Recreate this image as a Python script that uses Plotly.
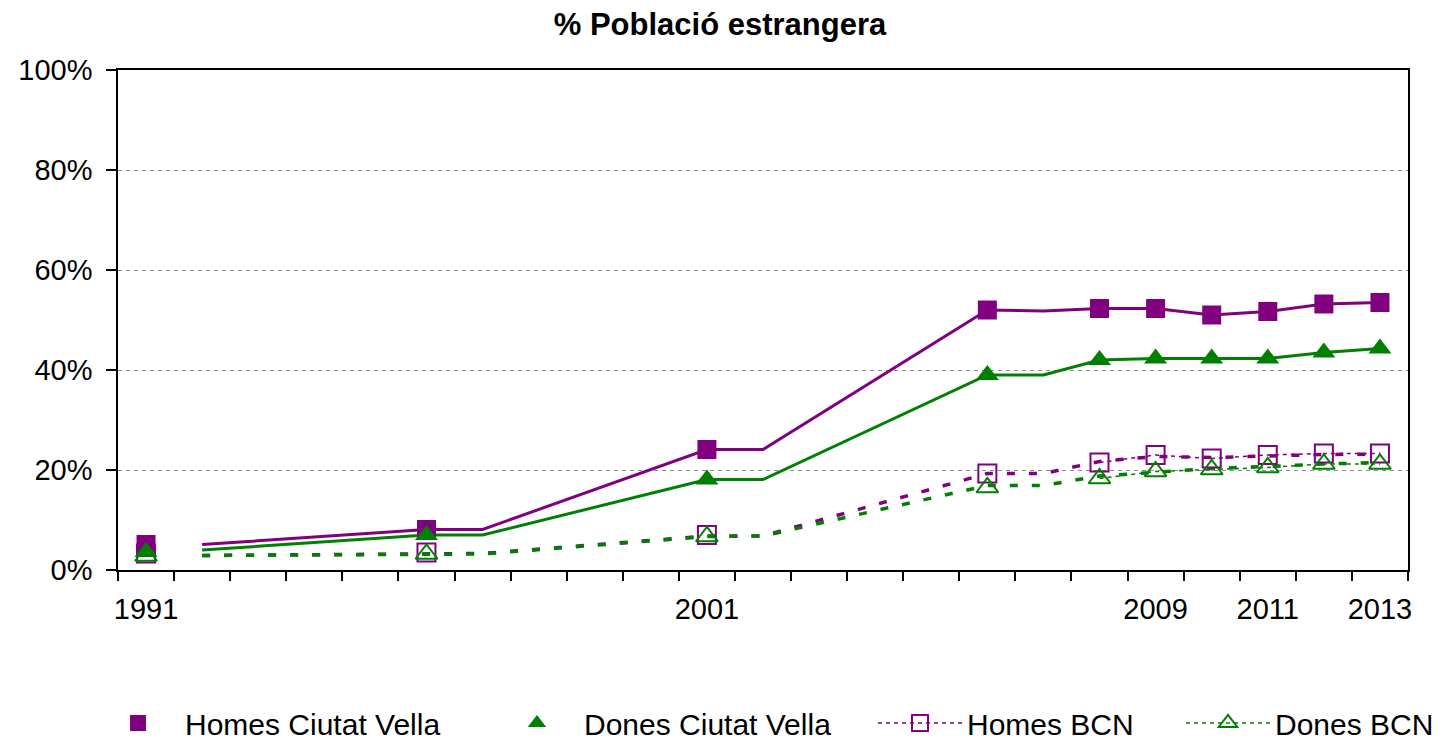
import plotly.graph_objects as go

# ---- data ----
line_years = [1992, 1996, 1997, 2001, 2002, 2006, 2007, 2008, 2009, 2010, 2011, 2012, 2013]
marker_years = [1991, 1996, 2001, 2006, 2008, 2009, 2010, 2011, 2012, 2013]

homes_cv_line = [5.1, 8.1, 8.1, 24.1, 24.1, 52.0, 51.8, 52.3, 52.3, 51.0, 51.7, 53.2, 53.5]
dones_cv_line = [4.0, 7.0, 7.0, 18.1, 18.1, 39.0, 39.0, 42.0, 42.3, 42.3, 42.3, 43.5, 44.3]
homes_bcn_line = [2.9, 3.3, 3.3, 6.8, 6.8, 19.3, 19.3, 21.7, 22.7, 22.5, 22.8, 23.1, 23.2]
dones_bcn_line = [2.9, 3.2, 3.2, 6.7, 6.8, 16.9, 16.9, 18.8, 19.5, 20.3, 20.7, 21.2, 21.5]

homes_cv = [5.1, 8.1, 24.1, 52.0, 52.3, 52.3, 51.0, 51.7, 53.2, 53.5]
dones_cv = [3.6, 7.0, 18.1, 39.0, 42.0, 42.3, 42.3, 42.3, 43.5, 44.3]
homes_bcn = [3.3, 3.5, 7.0, 19.3, 21.5, 23.0, 22.3, 23.0, 23.3, 23.3]
dones_bcn = [2.8, 3.2, 6.7, 16.5, 18.3, 19.7, 20.1, 20.5, 21.2, 21.2]

x_labels = [1991, 2001, 2009, 2011, 2013]
y_ticks = [0, 20, 40, 60, 80, 100]
y_tick_labels = ["0%", "20%", "40%", "60%", "80%", "100%"]

title = "% Població estrangera"
names = ["Homes Ciutat Vella", "Dones Ciutat Vella", "Homes BCN", "Dones BCN"]

PURPLE = "#800080"
GREEN = "#008000"
FONT = "Liberation Sans, Arial, sans-serif"

fig = go.Figure()

# thick lines (no legend)
fig.add_trace(go.Scatter(x=line_years, y=homes_bcn_line, mode="lines", showlegend=False,
                         line=dict(color=PURPLE, width=3.5, dash="8px,14px")))
fig.add_trace(go.Scatter(x=line_years, y=dones_bcn_line, mode="lines", showlegend=False,
                         line=dict(color=GREEN, width=3.5, dash="8px,14px")))
fig.add_trace(go.Scatter(x=line_years, y=dones_cv_line, mode="lines", showlegend=False,
                         line=dict(color=GREEN, width=3)))
fig.add_trace(go.Scatter(x=line_years, y=homes_cv_line, mode="lines", showlegend=False,
                         line=dict(color=PURPLE, width=3)))

# BCN marker series: early points as markers only, later points joined by a thin dotted line
SPLIT = 4
fig.add_trace(go.Scatter(x=marker_years[:SPLIT], y=homes_bcn[:SPLIT], mode="markers", showlegend=False,
                         marker=dict(symbol="square-open", size=18, color=PURPLE, line=dict(width=2, color=PURPLE))))
fig.add_trace(go.Scatter(x=marker_years[SPLIT:], y=homes_bcn[SPLIT:], mode="lines+markers", name=names[2],
                         legend="legend3",
                         line=dict(color=PURPLE, width=1.5, dash="4px,4px"),
                         marker=dict(symbol="square-open", size=18, color=PURPLE, line=dict(width=2, color=PURPLE))))
fig.add_trace(go.Scatter(x=marker_years[:SPLIT], y=dones_bcn[:SPLIT], mode="markers", showlegend=False,
                         marker=dict(symbol="triangle-up-open", size=19, color=GREEN, line=dict(width=2, color=GREEN))))
fig.add_trace(go.Scatter(x=marker_years[SPLIT:], y=dones_bcn[SPLIT:], mode="lines+markers", name=names[3],
                         legend="legend4",
                         line=dict(color=GREEN, width=1.5, dash="4px,4px"),
                         marker=dict(symbol="triangle-up-open", size=19, color=GREEN, line=dict(width=2, color=GREEN))))

# Ciutat Vella markers
fig.add_trace(go.Scatter(x=marker_years, y=homes_cv, mode="markers", name=names[0], legend="legend",
                         marker=dict(symbol="square", size=19, color=PURPLE)))
fig.add_trace(go.Scatter(x=marker_years, y=dones_cv, mode="markers", name=names[1], legend="legend2",
                         marker=dict(symbol="triangle-up", size=20, color=GREEN)))

# page is rendered with an 8px body margin; plot area in page px: x 118..1408, y 70..570
def px_to_paper_x(px):
    return (px - 118) / 1290.0

ITEMW = 84
leg_common = dict(orientation="h", yanchor="middle", xanchor="left", y=-0.306,
                  font=dict(family=FONT, size=30, color="black"),
                  bgcolor="rgba(0,0,0,0)", itemwidth=ITEMW, itemsizing="trace")
sym_off = 5 + ITEMW / 2 - 2

fig.update_layout(
    width=1439, height=736,
    margin=dict(l=110, r=39, t=62, b=174, autoexpand=False),
    paper_bgcolor="white", plot_bgcolor="white",
    font=dict(family=FONT, size=29, color="black"),
    title=dict(text=title, x=712 / 1439, xref="container", xanchor="center",
               y=1 - 16 / 736, yref="container", yanchor="middle",
               font=dict(family=FONT, size=31, color="black", weight="bold")),
    legend=dict(x=px_to_paper_x(136 - sym_off), **leg_common),
    legend2=dict(x=px_to_paper_x(535 - sym_off), **leg_common),
    legend3=dict(x=px_to_paper_x(918 - sym_off), **leg_common),
    legend4=dict(x=px_to_paper_x(1226 - sym_off), **leg_common),
    xaxis=dict(range=[1990.5, 2013.5], tickmode="array", tickvals=x_labels,
               ticktext=[str(v) for v in x_labels], ticks="", ticklabelstandoff=12,
               showgrid=False, zeroline=False, showline=True, linecolor="black", linewidth=1.5,
               mirror=True, automargin=False,
               tickfont=dict(family=FONT, size=29, color="black"),
               minor=dict(tickmode="array", tickvals=[1990.5 + i for i in range(24)],
                          ticks="outside", ticklen=9, tickwidth=1.5, tickcolor="black", showgrid=False)),
    yaxis=dict(range=[0, 100], tickmode="array", tickvals=y_ticks, ticktext=y_tick_labels,
               ticks="outside", ticklen=10, tickwidth=1.5, tickcolor="black", ticklabelstandoff=8,
               showgrid=True, gridcolor="#8c8c8c", gridwidth=1, griddash="4px,4px",
               zeroline=False, showline=True, linecolor="black", linewidth=1.5, mirror=True,
               automargin=False, tickfont=dict(family=FONT, size=29, color="black")),
)

fig.write_html("out.html")
